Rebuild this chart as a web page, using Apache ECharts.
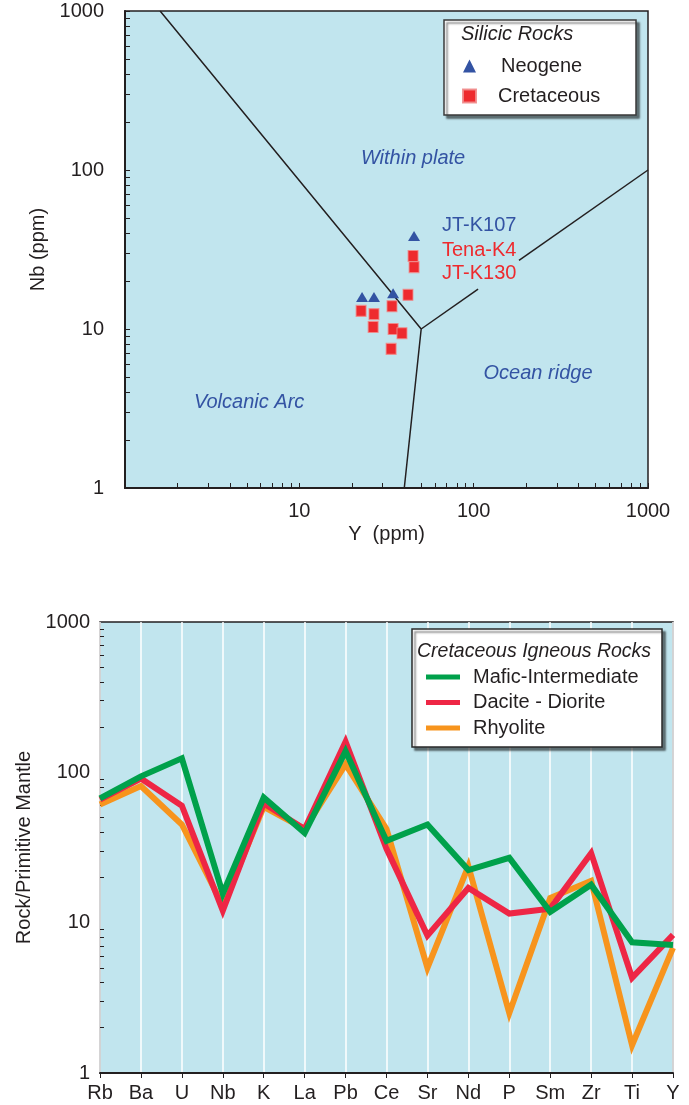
<!DOCTYPE html>
<html>
<head>
<meta charset="utf-8">
<script src="https://cdn.jsdelivr.net/npm/echarts@6/dist/echarts.min.js"></script>
<style>
  html, body { margin: 0; padding: 0; background: #ffffff; }
  #chart { width: 689px; height: 1105px; }
</style>
</head>
<body>
<div id="chart"></div>
<script>
// ---- Nb vs Y discrimination diagram (silicic rocks) ----
const neogene = [[22.9, 15.9], [26.8, 15.9], [34.5, 16.8], [45.5, 38.5]];
const cretaceous = [
  [22.6, 13.0], [26.8, 12.4], [26.5, 10.3], [34.0, 13.9], [42.0, 16.4],
  [44.9, 28.8], [45.5, 24.5], [34.5, 10.0], [38.8, 9.4], [33.6, 7.5]
];
// field boundaries (Y, Nb)
const boundaryMain = [[1.59, 1000], [50, 10], [40, 1]];
const boundaryRidgeLow = [[50, 10], [106, 17.8]];
const boundaryRidgeHigh = [[182, 27], [1000, 100]];
// field names and sample names, anchored in data space
const fieldNames = [
  { name: 'Within plate', value: [44.9, 119] },
  { name: 'Volcanic Arc', value: [5.15, 3.47] },
  { name: 'Ocean ridge', value: [234, 5.29] }
];
const sampleNames = [
  { name: 'JT-K107', value: [65.8, 45.1], color: '#3353a3' },
  { name: 'Tena-K4', value: [65.8, 31.4], color: '#ee2a2e' },
  { name: 'JT-K130', value: [65.8, 22.2], color: '#ee2a2e' }
];

// ---- Primitive-mantle normalised spider diagram ----
const elements = ['Rb', 'Ba', 'U', 'Nb', 'K', 'La', 'Pb', 'Ce', 'Sr', 'Nd', 'P', 'Sm', 'Zr', 'Ti', 'Y'];
const maficIntermediate = [67, 94, 124, 15.6, 68, 39.5, 138, 35, 45, 22.4, 27, 11.8, 17.9, 7.4, 7.1];
const daciteDiorite = [66, 91, 60, 12, 62, 42, 160, 31, 8.2, 17, 11.5, 12.4, 29, 4.3, 8.3];
const rhyolite = [61, 81, 45, 13, 59, 42, 113, 42, 5.0, 23.8, 2.5, 14.6, 19, 1.53, 6.8];

// intermediate log ticks (2..9 of every decade) between 1 and 1000
const minorLogTicks = [];
[1, 10, 100].forEach(function (d) {
  for (let k = 2; k <= 9; k++) minorLogTicks.push(k * d);
});

const FONT = "'Liberation Sans', Arial, Helvetica, sans-serif";
const INK = '#231f20';
const PANEL = '#c1e5ee';
const FIELD_BLUE = '#3353a3';

const chart = echarts.init(document.getElementById('chart'), null, { renderer: 'canvas' });

// plain numbers on the log axes (no thousands separator)
function plain(v) { return String(Math.round(v)); }

function minorAxis(dim, gridIndex, inside, len) {
  return {
    type: 'log', gridIndex: gridIndex, min: 1, max: 1000, logBase: 10,
    position: dim === 'x' ? 'bottom' : 'left',
    axisLine: { show: false },
    axisLabel: { show: false },
    splitLine: { show: false },
    axisTick: { show: true, inside: inside, length: len, customValues: minorLogTicks,
                lineStyle: { color: INK, width: 1 } }
  };
}

const option = {
  animation: false,
  backgroundColor: '#ffffff',
  textStyle: { fontFamily: FONT },
  grid: [
    { left: 125, right: 41, top: 11, height: 477, show: true,
      backgroundColor: PANEL, borderColor: INK, borderWidth: 1.5 },
    { left: 100, right: 16, top: 622, height: 451, show: true,
      backgroundColor: PANEL, borderColor: INK, borderWidth: 1.5 }
  ],
  xAxis: [
    {
      type: 'log', gridIndex: 0, min: 1, max: 1000, logBase: 10, position: 'bottom',
      name: 'Y  (ppm)', nameLocation: 'middle', nameGap: 36,
      nameTextStyle: { fontSize: 20, color: INK, fontFamily: FONT },
      axisLine: { lineStyle: { color: INK, width: 2 } },
      axisTick: { inside: true, length: 5, lineStyle: { color: INK, width: 1 } },
      axisLabel: { showMinLabel: false, margin: 13, fontSize: 20, color: INK, fontFamily: FONT,
                   formatter: plain },
      splitLine: { show: false }
    },
    minorAxis('x', 0, true, 5),
    {
      type: 'category', gridIndex: 1, data: elements, boundaryGap: false, position: 'bottom',
      axisLine: { lineStyle: { color: INK, width: 2 } },
      axisTick: { inside: false, length: 5, lineStyle: { color: INK, width: 1 } },
      axisLabel: { margin: 10, fontSize: 20, color: INK, fontFamily: FONT, interval: 0 },
      splitLine: { show: true, lineStyle: { color: '#ffffff', width: 1.5 } }
    }
  ],
  yAxis: [
    {
      type: 'log', gridIndex: 0, min: 1, max: 1000, logBase: 10, position: 'left',
      name: 'Nb (ppm)', nameLocation: 'middle', nameGap: 54,
      nameTextStyle: { fontSize: 20, color: INK, fontFamily: FONT },
      axisLine: { lineStyle: { color: INK, width: 2 } },
      axisTick: { inside: true, length: 5, lineStyle: { color: INK, width: 1 } },
      axisLabel: { margin: 21, fontSize: 20, color: INK, fontFamily: FONT, formatter: plain },
      splitLine: { show: false }
    },
    minorAxis('y', 0, true, 5),
    {
      type: 'log', gridIndex: 1, min: 1, max: 1000, logBase: 10, position: 'left',
      name: 'Rock/Primitive Mantle', nameLocation: 'middle', nameGap: 61,
      nameTextStyle: { fontSize: 20, color: INK, fontFamily: FONT },
      axisLine: { lineStyle: { color: INK, width: 2 } },
      axisTick: { inside: false, length: 4, lineStyle: { color: INK, width: 1 } },
      axisLabel: { margin: 10, fontSize: 20, color: INK, fontFamily: FONT, formatter: plain },
      splitLine: { show: false }
    },
    minorAxis('y', 1, true, 4)
  ],
  legend: [
    {
      top: 51, left: 457, orient: 'vertical', itemGap: 10, itemWidth: 13, itemHeight: 13,
      selectedMode: false, z: 20,
      textStyle: { fontSize: 20, lineHeight: 20, color: INK, fontFamily: FONT },
      data: [
        { name: 'Neogene', icon: 'triangle', itemStyle: { opacity: 1 },
          textStyle: { padding: [0, 0, 0, 20] } },
        { name: 'Cretaceous', icon: 'rect', itemStyle: { opacity: 1 },
          textStyle: { padding: [0, 0, 0, 17] } }
      ]
    },
    {
      top: 662, left: 421, orient: 'vertical', itemGap: 5.5, itemWidth: 34, itemHeight: 5,
      selectedMode: false, z: 20,
      textStyle: { fontSize: 20, lineHeight: 20, color: INK, fontFamily: FONT, padding: [0, 0, 0, 8] },
      data: [
        { name: 'Mafic-Intermediate', icon: 'rect' },
        { name: 'Dacite - Diorite', icon: 'rect' },
        { name: 'Rhyolite', icon: 'rect' }
      ]
    }
  ],
  graphic: [
    // legend frames with drop shadow, and their italic headings
    { type: 'rect', z: 10, shape: { x: 444, y: 20, width: 192, height: 95 },
      style: { fill: '#ffffff', stroke: '#3a3a3a', lineWidth: 1.5,
               shadowBlur: 2, shadowOffsetX: 3, shadowOffsetY: 3, shadowColor: 'rgba(0,0,0,0.5)' } },
    { type: 'text', z: 21, x: 461, y: 34,
      style: { text: 'Silicic Rocks', font: 'italic 20px ' + FONT, fill: INK, verticalAlign: 'middle' } },
    { type: 'rect', z: 10, shape: { x: 412, y: 629, width: 250, height: 118 },
      style: { fill: '#ffffff', stroke: '#2a2a2a', lineWidth: 1.5,
               shadowBlur: 2, shadowOffsetX: 3, shadowOffsetY: 3, shadowColor: 'rgba(0,0,0,0.5)' } },
    { type: 'text', z: 21, x: 417, y: 652,
      style: { text: 'Cretaceous Igneous Rocks', font: 'italic 19.5px ' + FONT, fill: INK, verticalAlign: 'middle' } }
  ],
  series: [
    // field boundaries
    { type: 'line', xAxisIndex: 0, yAxisIndex: 0, data: boundaryMain, showSymbol: false, silent: true,
      lineStyle: { color: INK, width: 1.5 }, z: 3 },
    { type: 'line', xAxisIndex: 0, yAxisIndex: 0, data: boundaryRidgeLow, showSymbol: false, silent: true,
      lineStyle: { color: INK, width: 1.5 }, z: 3 },
    { type: 'line', xAxisIndex: 0, yAxisIndex: 0, data: boundaryRidgeHigh, showSymbol: false, silent: true,
      lineStyle: { color: INK, width: 1.5 }, z: 3 },
    // field names
    { type: 'scatter', xAxisIndex: 0, yAxisIndex: 0, data: fieldNames, symbolSize: 0, silent: true, z: 4,
      itemStyle: { opacity: 1 },
      label: { show: true, position: 'inside', formatter: '{b}', fontSize: 20, fontStyle: 'italic',
               color: FIELD_BLUE, fontFamily: FONT } },
    // sample names
    { type: 'scatter', xAxisIndex: 0, yAxisIndex: 0, symbolSize: 0, silent: true, z: 4,
      itemStyle: { opacity: 1 },
      data: sampleNames.map(function (s) {
        return { name: s.name, value: s.value, label: { color: s.color } };
      }),
      label: { show: true, position: 'right', distance: 0, formatter: '{b}', fontSize: 20,
               fontFamily: FONT } },
    // samples
    { name: 'Neogene', type: 'scatter', xAxisIndex: 0, yAxisIndex: 0, data: neogene,
      symbol: 'triangle', symbolSize: [12, 10], z: 6,
      itemStyle: { color: '#3353a3', opacity: 1 } },
    { name: 'Cretaceous', type: 'scatter', xAxisIndex: 0, yAxisIndex: 0, data: cretaceous,
      symbol: 'rect', symbolSize: [10, 11], z: 5,
      itemStyle: { color: '#ee2a2e', opacity: 1, borderColor: 'rgba(240,140,140,0.9)', borderWidth: 1 } },
    // spider patterns
    { name: 'Rhyolite', type: 'line', xAxisIndex: 2, yAxisIndex: 2, data: rhyolite,
      showSymbol: false, lineStyle: { color: '#f7941d', width: 6, join: 'miter' },
      itemStyle: { color: '#f7941d' }, z: 3 },
    { name: 'Dacite - Diorite', type: 'line', xAxisIndex: 2, yAxisIndex: 2, data: daciteDiorite,
      showSymbol: false, lineStyle: { color: '#ee2645', width: 6, join: 'miter' },
      itemStyle: { color: '#ee2645' }, z: 4 },
    { name: 'Mafic-Intermediate', type: 'line', xAxisIndex: 2, yAxisIndex: 2, data: maficIntermediate,
      showSymbol: false, lineStyle: { color: '#00a14b', width: 6, join: 'miter' },
      itemStyle: { color: '#00a14b' }, z: 5 }
  ]
};

chart.setOption(option);
</script>
</body>
</html>
